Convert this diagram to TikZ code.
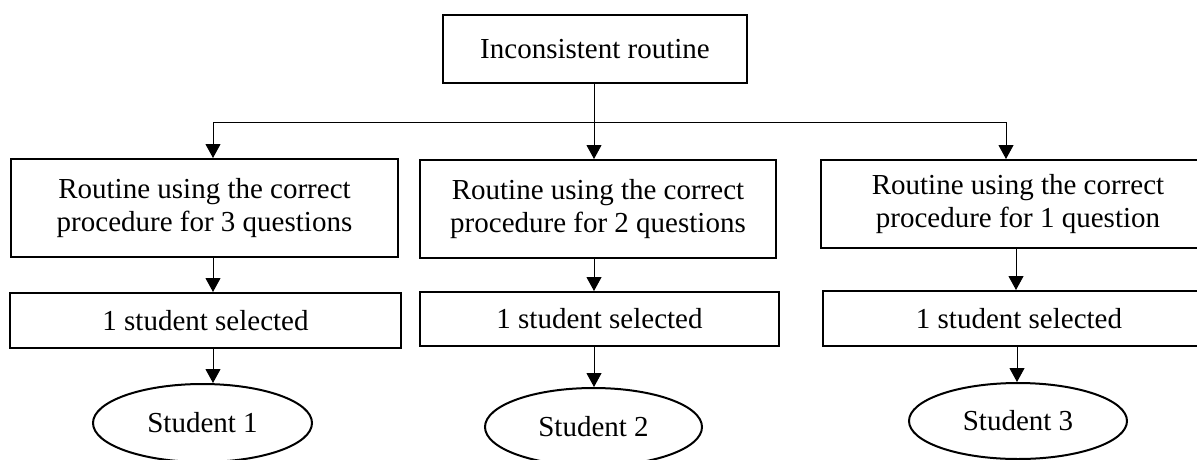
\documentclass[tikz,border=0pt]{standalone}
\usepackage{fontspec}
\setmainfont{Liberation Serif}
\usetikzlibrary{arrows.meta,shapes.geometric}
\tikzstyle{block} = [rectangle, draw, line width=2pt, align=center, inner sep=0pt, font=\fontsize{29}{33.5}\selectfont]
\tikzstyle{leaf} = [ellipse, draw, line width=2pt, inner sep=0pt, font=\fontsize{29}{33.5}\selectfont]
\tikzset{edge/.style = {
    line width=1pt,
    -{Triangle[width=15pt,length=14pt]},
  }
}
\begin{document}
\begin{tikzpicture}[x=1pt,y=-1pt]
            \useasboundingbox (0,0) rectangle (1197,459);
            % vertices
            \node[block, minimum width=304, minimum height=68] (top) at (595, 49) {Inconsistent routine};

            \node[block, minimum width=387, minimum height=98] (r1) at (204.5, 208) {Routine using the correct\\procedure for 3 questions};
            \node[block, minimum width=391, minimum height=55] (s1) at (205.5, 320.5) {1 student selected};
            \node[leaf, minimum width=219, minimum height=78] (e1) at (202.5, 423) {Student 1};

            \node[block, minimum width=356, minimum height=98] (r2) at (598, 209) {Routine using the correct\\procedure for 2 questions};
            \node[block, minimum width=359, minimum height=54] (s2) at (599.5, 319) {1 student selected};
            \node[leaf, minimum width=217, minimum height=78] (e2) at (593.5, 427) {Student 2};

            \node[block, minimum width=394, minimum height=88] (r3) at (1018, 204) {Routine using the correct\\procedure for 1 question};
            \node[block, minimum width=392, minimum height=55] (s3) at (1019, 318.5) {1 student selected};
            \node[leaf, minimum width=218, minimum height=76] (e3) at (1018, 421) {Student 3};

            \coordinate (fork) at ([xshift=-1]top.south |- 0,122);

            %edges
            \draw[edge] ([xshift=-1]top.south) -- ([xshift=-1]top.south |- r2.north);
            \draw[edge] (fork) -| ([xshift=8.5]r1.north);
            \draw[edge] (fork) -| ([xshift=-12]r3.north);

            \draw[edge] ([xshift=8.5]r1.south) -- ([xshift=8.5]r1.south |- s1.north);
            \draw[edge] ([xshift=7.5]s1.south) -- ([xshift=7.5]s1.south |- e1.north);
            \draw[edge] ([xshift=-4]r2.south) -- ([xshift=-4]r2.south |- s2.north);
            \draw[edge] ([xshift=-5.5]s2.south) -- ([xshift=-5.5]s2.south |- e2.north);
            \draw[edge] ([xshift=-2]r3.south) -- ([xshift=-2]r3.south |- s3.north);
            \draw[edge] ([xshift=-2]s3.south) -- ([xshift=-2]s3.south |- e3.north);
          \end{tikzpicture}
\end{document}
